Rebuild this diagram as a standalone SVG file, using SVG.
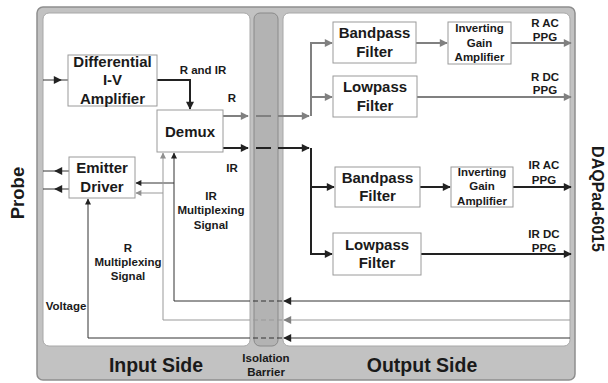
<svg xmlns="http://www.w3.org/2000/svg" width="608" height="383" viewBox="0 0 608 383">
<defs>
<marker id="ak" viewBox="0 0 10 10" refX="9" refY="5" markerWidth="9" markerHeight="8" markerUnits="userSpaceOnUse" orient="auto"><path d="M0,0 L10,5 L0,10 z" fill="#222"/></marker>
<marker id="ag" viewBox="0 0 10 10" refX="9" refY="5" markerWidth="9" markerHeight="8" markerUnits="userSpaceOnUse" orient="auto"><path d="M0,0 L10,5 L0,10 z" fill="#808080"/></marker>
<marker id="aks" viewBox="0 0 10 10" refX="9" refY="5" markerWidth="7" markerHeight="6" markerUnits="userSpaceOnUse" orient="auto"><path d="M0,0 L10,5 L0,10 z" fill="#222"/></marker>
<marker id="ags" viewBox="0 0 10 10" refX="9" refY="5" markerWidth="7" markerHeight="6" markerUnits="userSpaceOnUse" orient="auto"><path d="M0,0 L10,5 L0,10 z" fill="#909090"/></marker>
</defs>
<style>
text{font-family:"Liberation Sans",Arial,sans-serif;font-weight:bold;fill:#1a1a1a;text-anchor:middle}
.box{fill:#fff;stroke:#9a9a9a;stroke-width:1}
.big{font-size:15px}
.sm{font-size:11.5px}
.k2{fill:none;stroke:#222;stroke-width:2}
.g2{fill:none;stroke:#808080;stroke-width:2}
.k1{fill:none;stroke:#333;stroke-width:1}
.g1{fill:none;stroke:#999;stroke-width:1}
.dk{stroke-dasharray:5,3}
</style>
<g id="frame">
<rect x="37" y="7" width="538" height="373" rx="6" fill="#c2c2c2" stroke="#8e8e8e" stroke-width="1.5"/>
<rect x="43" y="13" width="207" height="333" rx="6" fill="#fff" stroke="#a8a8a8"/>
<rect x="283" y="13" width="287" height="333" rx="6" fill="#fff" stroke="#a8a8a8"/>
<rect x="254" y="13" width="24" height="333" rx="6" fill="#b3b3b3" stroke="#8a8a8a"/>
<text x="156" y="372" font-size="19.5">Input Side</text>
<text x="422" y="372" font-size="19.5">Output Side</text>
<text x="266" y="362" class="sm">Isolation</text>
<text x="266" y="376" class="sm">Barrier</text>
<text transform="translate(24,193) rotate(-90)" font-size="18.5">Probe</text>
<text transform="translate(592,199) rotate(90)" font-size="16">DAQPad-6015</text>
</g>
<g id="connectors">
<line x1="43" y1="80" x2="61" y2="80" class="k1" stroke-width="1.5" marker-end="url(#ak)"/>
<line x1="60" y1="80" x2="68" y2="80" class="k1" stroke-width="1.5"/>
<path d="M157,80 H190 V109" class="k2" marker-end="url(#ak)"/>
<line x1="223" y1="116" x2="248" y2="116" class="g2" marker-end="url(#ag)"/>
<line x1="256" y1="116" x2="271" y2="116" class="g2"/>
<path d="M278,116 H309" class="g2" marker-end="url(#ag)"/>
<path d="M311,116 V43 H332" class="g2" marker-end="url(#ag)"/>
<path d="M311,97 H332" class="g2" marker-end="url(#ag)"/>
<line x1="223" y1="148" x2="248" y2="148" class="k2" marker-end="url(#ak)"/>
<line x1="256" y1="148" x2="271" y2="148" class="k2"/>
<path d="M278,148 H309" class="k2" marker-end="url(#ak)"/>
<path d="M311,148 V254 H332" class="k2" marker-end="url(#ak)"/>
<path d="M311,187 H334" class="k2" marker-end="url(#ak)"/>
<line x1="416" y1="43" x2="447" y2="43" class="g2" marker-end="url(#ag)"/>
<line x1="511" y1="43" x2="571" y2="43" class="g2" marker-end="url(#ag)"/>
<line x1="417" y1="97" x2="571" y2="97" class="g2" marker-end="url(#ag)"/>
<line x1="420" y1="187" x2="450" y2="187" class="k2" marker-end="url(#ak)"/>
<line x1="513" y1="187" x2="571" y2="187" class="k2" marker-end="url(#ak)"/>
<line x1="421" y1="254" x2="571" y2="254" class="k2" marker-end="url(#ak)"/>
<line x1="69" y1="171" x2="55" y2="171" class="k1" stroke-width="1.5" marker-end="url(#ak)"/>
<line x1="56" y1="171" x2="43" y2="171" class="k1" stroke-width="1.5"/>
<line x1="69" y1="189" x2="55" y2="189" class="k1" stroke-width="1.5" marker-end="url(#ak)"/>
<line x1="56" y1="189" x2="43" y2="189" class="k1" stroke-width="1.5"/>
<line x1="570" y1="301" x2="284" y2="301" class="k1" marker-end="url(#ak)"/>
<line x1="570" y1="320" x2="284" y2="320" class="g1" marker-end="url(#ag)"/>
<line x1="570" y1="338" x2="284" y2="338" class="k1" marker-end="url(#ak)"/>
<line x1="282" y1="301" x2="250" y2="301" class="k1 dk"/>
<line x1="282" y1="320" x2="250" y2="320" class="g1 dk"/>
<line x1="282" y1="338" x2="250" y2="338" class="k1 dk"/>
<path d="M250,301 H174 V153" class="k1" marker-end="url(#aks)"/>
<path d="M174,183 H136" class="k1" marker-end="url(#aks)"/>
<path d="M250,320 H163 V153" class="g1" marker-end="url(#ags)"/>
<path d="M163,193 H136" class="g1" marker-end="url(#ags)"/>
<path d="M250,338 H88 V199" class="k1" marker-end="url(#aks)"/>
</g>
<g id="labels">
<text x="203" y="74" class="sm">R and IR</text>
<text x="232" y="102" class="sm">R</text>
<text x="232" y="172" class="sm">IR</text>
<text x="211" y="200" class="sm">IR</text>
<text x="211" y="214" class="sm">Multiplexing</text>
<text x="211" y="229" class="sm">Signal</text>
<text x="128" y="252" class="sm">R</text>
<text x="128" y="266" class="sm">Multiplexing</text>
<text x="128" y="280" class="sm">Signal</text>
<text x="66" y="310" class="sm">Voltage</text>
<text x="545" y="27" class="sm">R AC</text>
<text x="545" y="41" class="sm">PPG</text>
<text x="545" y="81" class="sm">R DC</text>
<text x="545" y="94" class="sm">PPG</text>
<text x="544" y="169" class="sm">IR AC</text>
<text x="544" y="184" class="sm">PPG</text>
<text x="544" y="238" class="sm">IR DC</text>
<text x="544" y="252" class="sm">PPG</text>
</g>
<g id="diff-amp">
<rect x="68" y="55" width="89" height="51" class="box"/>
<text x="112.5" y="67" class="big">Differential</text>
<text x="112.5" y="85" class="big">I-V</text>
<text x="112.5" y="104" class="big">Amplifier</text>
</g>
<g id="demux">
<rect x="157" y="110" width="66" height="42" class="box"/>
<text x="190" y="137" class="big">Demux</text>
</g>
<g id="emitter-driver">
<rect x="69" y="157" width="66" height="41" class="box"/>
<text x="102" y="173" class="big">Emitter</text>
<text x="102" y="192" class="big">Driver</text>
</g>
<g id="bandpass-r">
<rect x="333" y="22" width="83" height="41" class="box"/>
<text x="374.5" y="38" class="big">Bandpass</text>
<text x="374.5" y="57" class="big">Filter</text>
</g>
<g id="inv-gain-r">
<rect x="448" y="22" width="63" height="42" class="box"/>
<text x="479.5" y="32" class="sm">Inverting</text>
<text x="479.5" y="47" class="sm">Gain</text>
<text x="479.5" y="61" class="sm">Amplifier</text>
</g>
<g id="lowpass-r">
<rect x="333" y="76" width="84" height="41" class="box"/>
<text x="375" y="92" class="big">Lowpass</text>
<text x="375" y="111" class="big">Filter</text>
</g>
<g id="bandpass-ir">
<rect x="335" y="167" width="85" height="40" class="box"/>
<text x="377.5" y="183" class="big">Bandpass</text>
<text x="377.5" y="201" class="big">Filter</text>
</g>
<g id="inv-gain-ir">
<rect x="451" y="167" width="62" height="40" class="box"/>
<text x="482" y="176" class="sm">Inverting</text>
<text x="482" y="190" class="sm">Gain</text>
<text x="482" y="205" class="sm">Amplifier</text>
</g>
<g id="lowpass-ir">
<rect x="333" y="233" width="88" height="42" class="box"/>
<text x="377" y="250" class="big">Lowpass</text>
<text x="377" y="268" class="big">Filter</text>
</g>
</svg>
